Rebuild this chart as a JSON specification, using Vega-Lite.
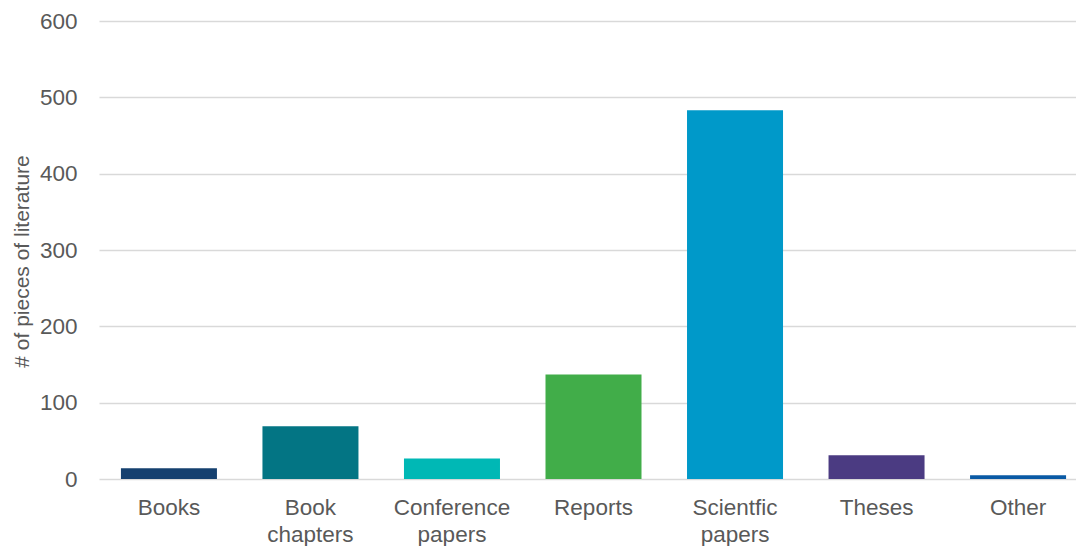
{
  "$schema": "https://vega.github.io/schema/vega-lite/v6.json",
  "autosize": {"type": "none"},
  "padding": {"left": 99, "top": 21, "right": 0, "bottom": 67},
  "width": 989,
  "height": 458,
  "background": "white",
  "data": {
    "values": [
      {"type": "Books", "count": 14},
      {"type": "Book chapters", "count": 69},
      {"type": "Conference papers", "count": 27},
      {"type": "Reports", "count": 137},
      {"type": "Scientfic papers", "count": 483},
      {"type": "Theses", "count": 31},
      {"type": "Other", "count": 5}
    ]
  },
  "config": {
    "view": {"stroke": null},
    "font": "Liberation Sans",
    "axis": {"labelFont": "Liberation Sans", "titleFont": "Liberation Sans", "labelColor": "#595959", "titleColor": "#595959"}
  },
  "mark": {"type": "bar"},
  "encoding": {
    "x": {
      "field": "type",
      "type": "nominal",
      "sort": null,
      "scale": {"paddingInner": 0.3216, "paddingOuter": 0.155},
      "axis": {
        "title": null,
        "labelAngle": 0,
        "domain": false,
        "ticks": false,
        "tickSize": 0,
        "labelPadding": 17,
        "labelFontSize": 22.5,
        "labelLineHeight": 27,
        "labelExpr": "split(datum.label, ' ')"
      }
    },
    "y": {
      "field": "count",
      "type": "quantitative",
      "scale": {"domain": [0, 600]},
      "axis": {
        "title": "# of pieces of literature",
        "values": [0, 100, 200, 300, 400, 500, 600],
        "domain": false,
        "ticks": false,
        "tickSize": 0,
        "labelPadding": 22,
        "labelFontSize": 22.5,
        "titleFontSize": 21,
        "titleFontWeight": "normal",
        "titlePadding": 7,
        "titleY": 240,
        "gridColor": "#d9d9d9",
        "gridWidth": 1.5
      }
    },
    "color": {
      "field": "type",
      "type": "nominal",
      "legend": null,
      "scale": {
        "domain": ["Books", "Book chapters", "Conference papers", "Reports", "Scientfic papers", "Theses", "Other"],
        "range": ["#15406f", "#037584", "#00b8b5", "#41ad49", "#0099c9", "#4b3b82", "#0a5aa5"]
      }
    }
  }
}
